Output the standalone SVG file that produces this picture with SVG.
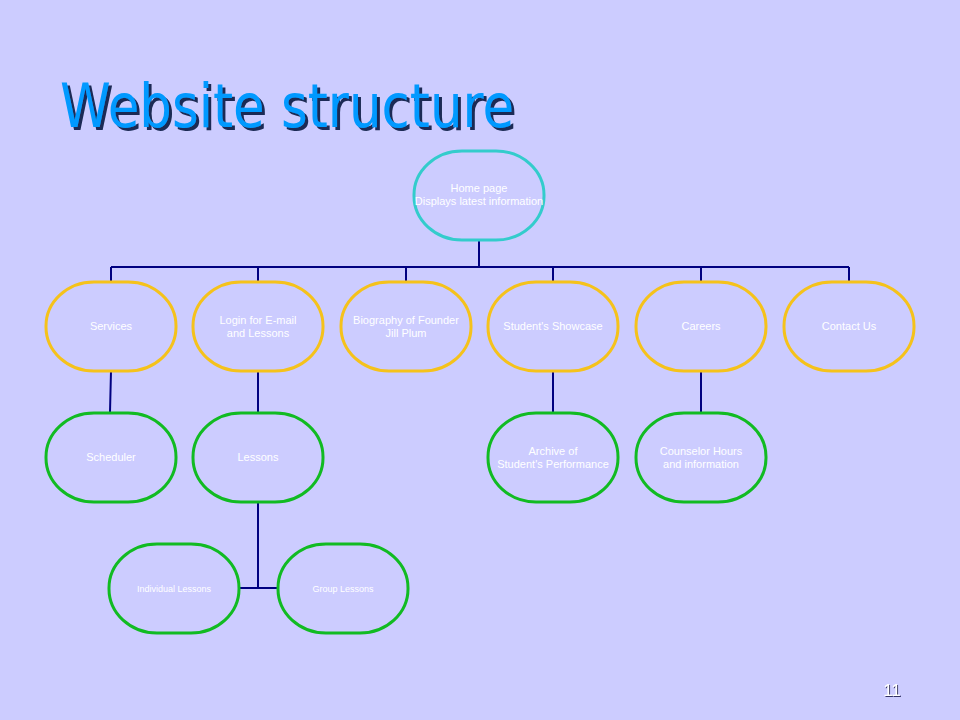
<svg xmlns="http://www.w3.org/2000/svg" width="960" height="720" viewBox="0 0 960 720">
<defs>
<filter id="sh" x="-5%" y="-20%" width="115%" height="150%"><feDropShadow dx="3" dy="3" stdDeviation="0.6" flood-color="#1A2A55" flood-opacity="1"/></filter>
<filter id="sh2" x="-20%" y="-20%" width="150%" height="150%"><feDropShadow dx="1" dy="1" stdDeviation="0.4" flood-color="#333366" flood-opacity="1"/></filter>
</defs>
<style>
.n{fill:none;stroke-width:3}
.top{stroke:#33CCCC}
.mid{stroke:#F5C21B}
.low{stroke:#11BB22}
.t{fill:#FFFFFF;font-family:"Liberation Sans",Arial,sans-serif;font-size:11px;text-anchor:middle}
.s{font-size:9px}
.c{stroke:#000080;stroke-width:2;fill:none}
</style>
<rect width="960" height="720" fill="#CCCCFF"/>
<text x="60" y="127" font-family="'DejaVu Sans',Verdana,sans-serif" font-size="60" fill="#0099FF" textLength="454" lengthAdjust="spacingAndGlyphs" filter="url(#sh)">Website structure</text>
<g id="connectors">
<path class="c" d="M479 240V267M111 267H849M111 267V282M258 267V282M406 267V282M553 267V282M701 267V282M849 267V282"/>
<path class="c" d="M111 371L110 412M258 371V412M553 371V412M701 371V412"/>
<path class="c" d="M258 502V588M240 588H278"/>
</g>
<g id="home"><rect class="n top" x="414" y="151" width="130" height="89" rx="48" ry="44"/><text class="t" x="479" y="192">Home page</text><text class="t" x="479" y="205">Displays latest information</text></g>
<g id="services"><rect class="n mid" x="46" y="282" width="130" height="89" rx="48" ry="44"/><text class="t" x="111" y="330">Services</text></g>
<g id="login"><rect class="n mid" x="193" y="282" width="130" height="89" rx="48" ry="44"/><text class="t" x="258" y="324">Login for E-mail</text><text class="t" x="258" y="337">and Lessons</text></g>
<g id="biography"><rect class="n mid" x="341" y="282" width="130" height="89" rx="48" ry="44"/><text class="t" x="406" y="324">Biography of Founder</text><text class="t" x="406" y="337">Jill Plum</text></g>
<g id="showcase"><rect class="n mid" x="488" y="282" width="130" height="89" rx="48" ry="44"/><text class="t" x="553" y="330">Student's Showcase</text></g>
<g id="careers"><rect class="n mid" x="636" y="282" width="130" height="89" rx="48" ry="44"/><text class="t" x="701" y="330">Careers</text></g>
<g id="contact"><rect class="n mid" x="784" y="282" width="130" height="89" rx="48" ry="44"/><text class="t" x="849" y="330">Contact Us</text></g>
<g id="scheduler"><rect class="n low" x="46" y="413" width="130" height="89" rx="48" ry="44"/><text class="t" x="111" y="461">Scheduler</text></g>
<g id="lessons"><rect class="n low" x="193" y="413" width="130" height="89" rx="48" ry="44"/><text class="t" x="258" y="461">Lessons</text></g>
<g id="archive"><rect class="n low" x="488" y="413" width="130" height="89" rx="48" ry="44"/><text class="t" x="553" y="455">Archive of</text><text class="t" x="553" y="468">Student's Performance</text></g>
<g id="counselor"><rect class="n low" x="636" y="413" width="130" height="89" rx="48" ry="44"/><text class="t" x="701" y="455">Counselor Hours</text><text class="t" x="701" y="468">and information</text></g>
<g id="individual"><rect class="n low" x="109" y="544" width="130" height="89" rx="48" ry="44"/><text class="t s" x="174" y="592">Individual Lessons</text></g>
<g id="group"><rect class="n low" x="278" y="544" width="130" height="89" rx="48" ry="44"/><text class="t s" x="343" y="592">Group  Lessons</text></g>
<text x="892" y="696" font-family="'Liberation Sans',Arial,sans-serif" font-size="17" fill="#FFFFFF" text-anchor="middle" filter="url(#sh2)">11</text>
</svg>
